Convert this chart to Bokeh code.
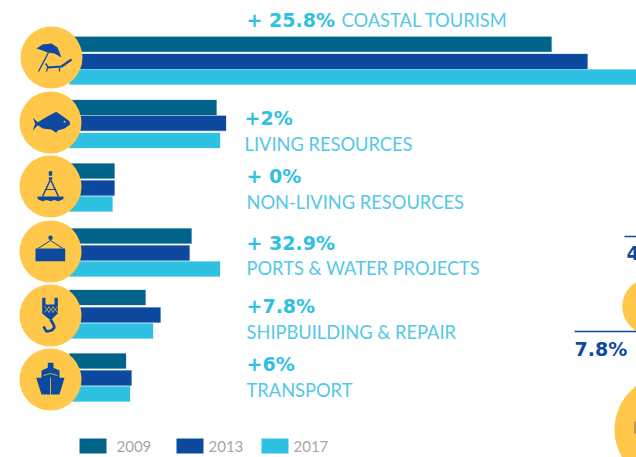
from bokeh.plotting import figure
from bokeh.models import Range1d, ColumnDataSource
from bokeh.core.properties import value
from bokeh.embed import file_html
from bokeh.resources import INLINE

categories = ["COASTAL TOURISM", "LIVING RESOURCES", "NON-LIVING RESOURCES",
              "PORTS & WATER PROJECTS", "SHIPBUILDING & REPAIR", "TRANSPORT"]
changes = ["+ 25.8%", "+2%", "+ 0%", "+ 32.9%", "+7.8%", "+6%"]
years = ["2009", "2013", "2017"]
values_2009 = [482, 147, 45, 122, 76, 56.5]
values_2013 = [518, 156.5, 45, 120, 91, 62]
values_2017 = [580, 150.5, 43, 150.5, 83.5, 60.5]

DARK, BLUE, CYAN, YELLOW, GREY = "#00638A", "#0D4A9F", "#2FC1E2", "#FFC84A", "#A6A6A6"
BASE = 70
row_tops = [37.3, 100.5, 164, 229, 290.5, 354]
row_gaps = [[0, 17.2, 32.8], [0, 15.8, 33], [0, 17, 33], [0, 17, 33], [0, 17.5, 33.5], [0, 17, 33]]
circle_xy = [(52, 58), (51, 123), (51, 187), (51, 252), (51, 316), (51, 380)]
label_pos = [(247, 20, 342, 20), (245, 118, 245, 144), (247, 176, 247, 202),
             (247, 243, 247, 268), (247, 306, 247, 332), (247, 364, 247, 390)]

p = figure(width=636, height=457, output_backend="svg", toolbar_location=None,
           x_range=Range1d(1, 637), y_range=Range1d(458, 1),
           min_border=0, outline_line_color=None, background_fill_color="white")
p.axis.visible = False
p.grid.visible = False

# bars
for j, (vals, col) in enumerate(zip([values_2009, values_2013, values_2017], [DARK, BLUE, CYAN])):
    ys = [t + g[j] + 7.5 for t, g in zip(row_tops, row_gaps)]
    src = ColumnDataSource(dict(y=ys, left=[BASE] * 6, right=[BASE + v for v in vals]))
    p.hbar(y="y", left="left", right="right", height=15, source=src, fill_color=col,
           line_color=col, line_width=0.5, line_alpha=0.5)

# badges
p.circle([c[0] for c in circle_xy], [c[1] for c in circle_xy], radius=31, fill_color=YELLOW, line_color=None)

# icons, drawn in a local frame round each badge
def poly(i, xs, ys, color=BLUE):
    cx, cy = circle_xy[i]
    p.patch([cx + x for x in xs], [cy + y for y in ys], fill_color=color, line_color=None)

def stroke(i, xs, ys, w=1.5, color=BLUE):
    cx, cy = circle_xy[i]
    p.line([cx + x for x in xs], [cy + y for y in ys], line_color=color, line_width=w)

# umbrella and lounger
poly(0, [-15, -9, 0, 6, 10, 3, -4, -9], [-9, -13, -14, -10, 0, -4, -5, -7])
stroke(0, [-3, -13], [-5, 14], 1.3)
stroke(0, [-4, 10, 20], [10, 9, 2], 2.2)
stroke(0, [-4, -5], [10, 14], 1.2)
stroke(0, [8, 8], [10, 14], 1.2)
stroke(0, [-6, -3], [6, 10], 1.4)
# fish
poly(1, [-17.7, -12.7, -2.7, 5.7, 12.3, 19, 19.7, 14, 7.3, 5.7, 0.7, -7.7, -12.7, -17.7, -15.3],
     [-4.7, -0.3, -6.3, -10.7, -6.3, -1.3, 2, 6, 8, 10.3, 7, 6, 2.7, 8, 1])
p.circle([circle_xy[1][0] + 14], [circle_xy[1][1] - 0.7], radius=1, fill_color=YELLOW, line_color=None)
# buoy
poly(2, [-1.7, 1.7, 1.7, -1.7], [-15.3, -15.3, -7, -7])
stroke(2, [-2.5, 2.5], [-10, -10], 1.4, YELLOW)
stroke(2, [0, -8], [-7, 10], 1.5)
stroke(2, [0, 8], [-7, 10], 1.5)
stroke(2, [-5, 5], [3, 3], 1)
poly(2, [-13, 13, 13, 8, 4, 0, -4, -8, -13], [10, 10, 12.5, 14.7, 13.5, 14.7, 13.5, 14.7, 12.5])
# container
poly(3, [-15, 14.7, 14.7, -15], [-3, -3, 9.7, 9.7])
stroke(3, [-12.5, 0, 12.5], [-3, -11, -3], 1)
p.circle([circle_xy[3][0]], [circle_xy[3][1] - 13.7], radius=2.2, fill_color=BLUE, line_color=None)
# hook
poly(4, [-8.3, -5, -5, 4, 4, 7.3, 7.3, 1, -1, -8.3], [-17.7, -17.7, -11, -11, -17.7, -17.7, -2, 4, 4, -2])
for dx in (-6, -2, 2):
    stroke(4, [dx, dx + 5], [-9, -3], 0.7, YELLOW)
    stroke(4, [dx + 5, dx], [-9, -3], 0.7, YELLOW)
stroke(4, [0, 3, 4, 1, -4, -7], [4, 9, 12, 15, 16, 11], 2.6)
# ship
poly(5, [-2.7, 3, 3, 9, 9, 14, 9, -9, -14.3, -9, -9, -2.7],
     [-16.7, -16.7, -11.7, -9, -1.7, -1.7, 15, 15, -1.7, -1.7, -9, -11.7])
stroke(5, [0, 0], [-2, 15], 0.8, YELLOW)
stroke(5, [-7, 0, 7], [-4, -6, -4], 0.8, YELLOW)

# change figures and category labels
p.text([l[0] for l in label_pos], [l[1] for l in label_pos], text=changes,
       text_font=value("DejaVu Sans"), text_font_style="bold", text_font_size="19px",
       text_color=CYAN, text_baseline="middle", text_align="left")
p.text([l[2] for l in label_pos], [l[3] for l in label_pos], text=categories,
       text_font=value("Lato"), text_font_size="18.3px",
       text_color="#55C8E6", text_baseline="middle", text_align="left")

# legend
leg_x = [80, 177, 262]
leg_tx = [117, 209, 294]
for x, tx, col, yr in zip(leg_x, leg_tx, [DARK, BLUE, CYAN], years):
    p.rect([x + 13.5], [446.5], width=27, height=15, fill_color=col, line_color=None)
    p.text([tx], [447], text=[yr], text_font=value("Lato"), text_font_size="15px",
           text_color=GREY, text_baseline="middle", text_align="left")

# neighbouring panel, cut off by the page edge
p.circle([651, 669.5], [307, 430], radius=[28.3, 54.5], fill_color=YELLOW, line_color=None)
p.line([635.5, 635.5], [422, 434], line_color="#8A8060", line_width=1.2)
p.line([625, 637], [237, 237], line_color=BLUE, line_width=1.5)
p.line([575, 637], [332, 332], line_color=BLUE, line_width=1.5)
p.text([627], [253], text=["4"], text_font=value("DejaVu Sans"), text_font_style="bold",
       text_font_size="19px", text_color=BLUE, text_baseline="middle")
p.text([575], [349], text=["7.8%"], text_font=value("DejaVu Sans"), text_font_style="bold",
       text_font_size="19px", text_color=BLUE, text_baseline="middle")

open("out.html", "w").write(file_html(p, INLINE))
